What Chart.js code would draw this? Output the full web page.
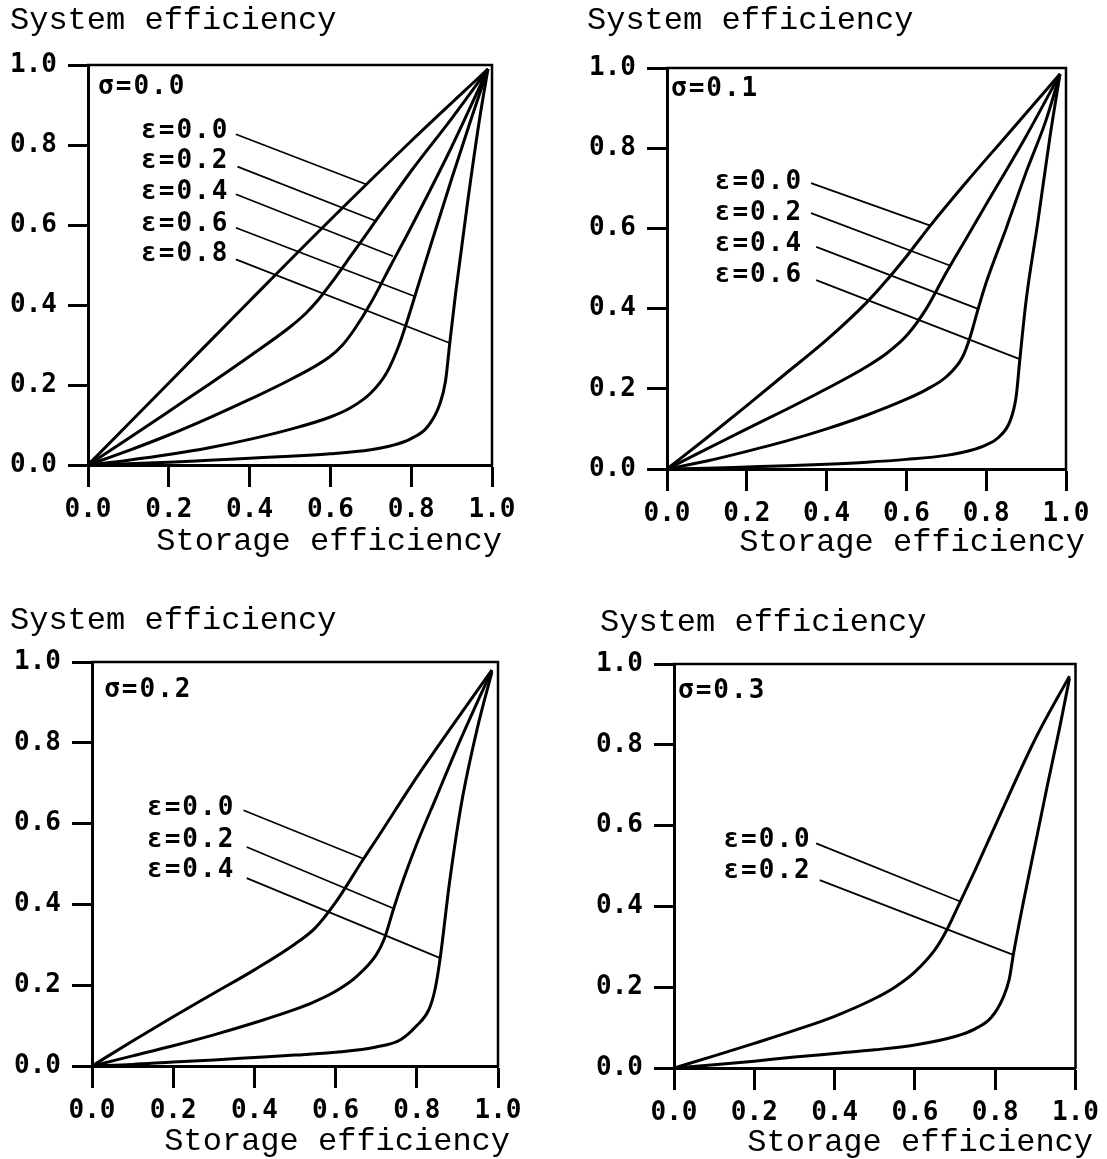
<!DOCTYPE html>
<html>
<head>
<meta charset="utf-8">
<script src="https://cdn.jsdelivr.net/npm/chart.js@4.4.0/dist/chart.umd.min.js"></script>
<style>
html,body{margin:0;padding:0;background:#fff;width:1107px;height:1159px;overflow:hidden;}
canvas{position:absolute;}
</style>
</head>
<body>
<canvas id="c0"></canvas>
<canvas id="c1"></canvas>
<canvas id="c2"></canvas>
<canvas id="c3"></canvas>
<script>
// ---------- data ----------
const tickValues = [0, 0.2, 0.4, 0.6, 0.8, 1.0];
const yTitle = 'System efficiency';
const xTitle = 'Storage efficiency';
const sigmaLabels = ['σ=0.0', 'σ=0.1', 'σ=0.2', 'σ=0.3'];

// sigma = 0.0
const s0_e00 = [[0,0],[0.2,0.205],[0.4,0.41],[0.6,0.613],[0.8,0.81],[0.99,0.99]];
const s0_e02 = [[0,0],[0.1,0.066],[0.2,0.134],[0.3,0.202],[0.4,0.272],[0.5,0.345],[0.54,0.38],[0.57,0.413],[0.6,0.452],[0.65,0.522],[0.7,0.593],[0.8,0.735],[0.9,0.866],[0.99,0.99]];
const s0_e04 = [[0,0],[0.1,0.036],[0.2,0.075],[0.3,0.118],[0.4,0.164],[0.5,0.213],[0.6,0.272],[0.63,0.3],[0.66,0.34],[0.7,0.405],[0.75,0.5],[0.8,0.595],[0.9,0.795],[0.99,0.99]];
const s0_e06 = [[0,0],[0.1,0.012],[0.2,0.026],[0.3,0.043],[0.4,0.064],[0.5,0.089],[0.6,0.12],[0.65,0.143],[0.7,0.18],[0.74,0.232],[0.77,0.3],[0.79,0.36],[0.81,0.425],[0.85,0.555],[0.9,0.715],[0.95,0.87],[0.99,0.99]];
const s0_e08 = [[0,0],[0.1,0.003],[0.2,0.007],[0.3,0.012],[0.4,0.017],[0.5,0.022],[0.6,0.028],[0.7,0.038],[0.75,0.048],[0.8,0.066],[0.84,0.095],[0.87,0.15],[0.885,0.21],[0.895,0.3],[0.91,0.43],[0.94,0.66],[0.97,0.87],[0.99,0.99]];
const s0_eps = ['ε=0.0','ε=0.2','ε=0.4','ε=0.6','ε=0.8'];
const s0_epsY = [0.835,0.76,0.681,0.601,0.526];
const s0_leaders = [[0.366,0.827,0.688,0.702],[0.37,0.746,0.713,0.61],[0.366,0.677,0.755,0.522],[0.366,0.593,0.808,0.422],[0.366,0.514,0.895,0.305]];

// sigma = 0.1
const s1_e00 = [[0,0],[0.1,0.078],[0.2,0.158],[0.3,0.24],[0.4,0.322],[0.5,0.415],[0.55,0.47],[0.6,0.53],[0.66,0.607],[0.75,0.715],[0.85,0.83],[0.985,0.985]];
const s1_e02 = [[0,0],[0.1,0.05],[0.2,0.1],[0.3,0.149],[0.4,0.2],[0.5,0.255],[0.55,0.288],[0.6,0.332],[0.65,0.4],[0.7,0.49],[0.75,0.575],[0.8,0.66],[0.9,0.83],[0.985,0.985]];
const s1_e04 = [[0,0],[0.1,0.02],[0.2,0.044],[0.3,0.07],[0.4,0.1],[0.5,0.134],[0.6,0.174],[0.65,0.198],[0.7,0.23],[0.74,0.278],[0.76,0.33],[0.78,0.4],[0.8,0.465],[0.85,0.6],[0.9,0.74],[0.95,0.87],[0.985,0.985]];
const s1_e06 = [[0,0],[0.1,0.002],[0.2,0.005],[0.3,0.008],[0.4,0.012],[0.5,0.017],[0.6,0.024],[0.7,0.034],[0.76,0.046],[0.8,0.06],[0.83,0.078],[0.86,0.12],[0.875,0.18],[0.884,0.27],[0.9,0.42],[0.93,0.62],[0.96,0.83],[0.985,0.985]];
const s1_eps = ['ε=0.0','ε=0.2','ε=0.4','ε=0.6'];
const s1_epsY = [0.714,0.638,0.56,0.483];
const s1_leaders = [[0.361,0.713,0.66,0.607],[0.361,0.638,0.707,0.508],[0.374,0.554,0.778,0.4],[0.374,0.471,0.884,0.274]];

// sigma = 0.2
const s2_e00 = [[0,0],[0.1,0.062],[0.2,0.122],[0.3,0.18],[0.4,0.238],[0.5,0.302],[0.55,0.342],[0.6,0.405],[0.669,0.513],[0.7,0.56],[0.8,0.715],[0.9,0.86],[0.985,0.98]];
const s2_e02 = [[0,0],[0.1,0.025],[0.2,0.05],[0.3,0.077],[0.4,0.107],[0.5,0.14],[0.55,0.16],[0.6,0.185],[0.65,0.22],[0.7,0.275],[0.72,0.315],[0.743,0.39],[0.77,0.47],[0.8,0.55],[0.85,0.67],[0.9,0.79],[0.985,0.98]];
const s2_e04 = [[0,0],[0.1,0.004],[0.2,0.01],[0.3,0.015],[0.4,0.021],[0.5,0.027],[0.6,0.034],[0.7,0.047],[0.76,0.065],[0.8,0.1],[0.83,0.14],[0.845,0.19],[0.858,0.27],[0.88,0.45],[0.91,0.65],[0.95,0.84],[0.985,0.975]];
const s2_eps = ['ε=0.0','ε=0.2','ε=0.4'];
const s2_epsY = [0.637,0.559,0.484];
const s2_leaders = [[0.373,0.633,0.669,0.513],[0.381,0.542,0.743,0.39],[0.381,0.465,0.858,0.267]];

// sigma = 0.3
const s3_e00 = [[0,0],[0.1,0.03],[0.2,0.061],[0.3,0.093],[0.4,0.128],[0.5,0.172],[0.55,0.2],[0.6,0.238],[0.65,0.293],[0.68,0.343],[0.713,0.412],[0.75,0.49],[0.8,0.6],[0.9,0.815],[0.985,0.97]];
const s3_e02 = [[0,0],[0.1,0.008],[0.2,0.017],[0.3,0.027],[0.4,0.036],[0.5,0.045],[0.6,0.057],[0.7,0.078],[0.75,0.097],[0.79,0.125],[0.82,0.175],[0.835,0.22],[0.845,0.28],[0.87,0.41],[0.9,0.555],[0.93,0.7],[0.96,0.84],[0.985,0.965]];
const s3_eps = ['ε=0.0','ε=0.2'];
const s3_epsY = [0.564,0.487];
const s3_leaders = [[0.354,0.556,0.713,0.412],[0.363,0.465,0.845,0.28]];

// label anchors (data units)
const epsRightX = [0.345, 0.336, 0.348, 0.338];
const sigmaAnchor = [[0.025,0.945],[0.01,0.948],[0.03,0.93],[0.01,0.933]];

// ---------- layout (pixels) ----------
const boxes = [
  {cx:0,   cy:0,   cw:553, ch:580, L:88,  R:492,  T:65,  B:465,  tX:10,  tY:21,  sR:502,  sY:542},
  {cx:553, cy:0,   cw:554, ch:580, L:667, R:1066, T:68,  B:469,  tX:587, tY:21,  sR:1085, sY:543},
  {cx:0,   cy:580, cw:553, ch:579, L:92,  R:498,  T:662, B:1066, tX:10,  tY:621, sR:510,  sY:1142},
  {cx:553, cy:580, cw:554, ch:579, L:674, R:1078, T:664, B:1068, tX:600, tY:623, sR:1093, sY:1143}
];

const panels = [
  {curves:[s0_e00,s0_e02,s0_e04,s0_e06,s0_e08], eps:s0_eps, epsY:s0_epsY, leaders:s0_leaders},
  {curves:[s1_e00,s1_e02,s1_e04,s1_e06], eps:s1_eps, epsY:s1_epsY, leaders:s1_leaders},
  {curves:[s2_e00,s2_e02,s2_e04], eps:s2_eps, epsY:s2_epsY, leaders:s2_leaders},
  {curves:[s3_e00,s3_e02], eps:s3_eps, epsY:s3_epsY, leaders:s3_leaders}
];

const toXY = arr => arr.map(p => ({x:p[0], y:p[1]}));

panels.forEach((pn, i) => {
  const b = boxes[i];
  const cv = document.getElementById('c' + i);
  cv.width = b.cw; cv.height = b.ch;
  cv.style.left = b.cx + 'px'; cv.style.top = b.cy + 'px';
  cv.style.width = b.cw + 'px'; cv.style.height = b.ch + 'px';

  const datasets = [];
  pn.curves.forEach(c => datasets.push({
    data: toXY(c), showLine:true, borderColor:'#000', borderWidth:3,
    pointRadius:0, cubicInterpolationMode:'monotone', fill:false
  }));
  pn.leaders.forEach(l => datasets.push({
    data: [{x:l[0],y:l[1]},{x:l[2],y:l[3]}], showLine:true, borderColor:'#000',
    borderWidth:1.7, pointRadius:0, fill:false
  }));

  const textPlugin = {
    id:'texts' + i,
    afterDraw(chart) {
      const ctx = chart.ctx;
      const a = chart.chartArea;
      const xs = chart.scales.x, ys = chart.scales.y;
      ctx.save();
      ctx.strokeStyle = '#000';
      ctx.lineWidth = 2.5;
      ctx.beginPath();
      ctx.moveTo(a.left - 1, a.top);
      ctx.lineTo(a.right, a.top);
      ctx.lineTo(a.right, a.bottom + 1);
      ctx.stroke();
      ctx.fillStyle = '#000';
      ctx.font = '32px "Liberation Mono"';
      ctx.textBaseline = 'middle';
      ctx.textAlign = 'left';
      ctx.fillText(yTitle, b.tX - b.cx, b.tY - b.cy);
      ctx.textAlign = 'right';
      ctx.fillText(xTitle, b.sR - b.cx, b.sY - b.cy);
      ctx.font = 'bold 26px "DejaVu Sans Mono"';
      if ('letterSpacing' in ctx) ctx.letterSpacing = '2px';
      ctx.textAlign = 'left';
      ctx.fillText(sigmaLabels[i], xs.getPixelForValue(sigmaAnchor[i][0]), ys.getPixelForValue(sigmaAnchor[i][1]));
      ctx.textAlign = 'right';
      pn.eps.forEach((t, k) => {
        ctx.fillText(t, xs.getPixelForValue(epsRightX[i]) + 2, ys.getPixelForValue(pn.epsY[k]));
      });
      ctx.restore();
    }
  };

  const axisCommon = {
    type:'linear', min:0, max:1,
    afterBuildTicks: s => { s.ticks = tickValues.map(v => ({value:v})); },
    ticks:{ callback: v => Number(v).toFixed(1), color:'#000',
            font:{family:'DejaVu Sans Mono', size:26, weight:'bold'}, autoSkip:false, maxRotation:0 },
    border:{display:true, color:'#000', width:3}
  };

  new Chart(cv, {
    type:'scatter',
    data:{datasets},
    options:{
      responsive:false, animation:false, devicePixelRatio:1,
      layout:{padding:{left:0, top:b.T - b.cy, right:b.cx + b.cw - b.R, bottom:0}},
      plugins:{legend:{display:false}, tooltip:{enabled:false}},
      scales:{
        x: Object.assign({}, axisCommon, {
          afterFit: s => { s.height = b.cy + b.ch - b.B; },
          ticks: Object.assign({}, axisCommon.ticks, {padding:8}),
          grid:{drawOnChartArea:false, drawTicks:true, tickLength:22, tickWidth:3, tickColor:'#000', color:'#000'}
        }),
        y: Object.assign({}, axisCommon, {
          afterFit: s => { s.width = b.L - b.cx; },
          ticks: Object.assign({}, axisCommon.ticks, {padding:11}),
          grid:{drawOnChartArea:false, drawTicks:true, tickLength:20, tickWidth:3, tickColor:'#000', color:'#000'}
        })
      }
    },
    plugins:[textPlugin]
  });
});
</script>
</body>
</html>
